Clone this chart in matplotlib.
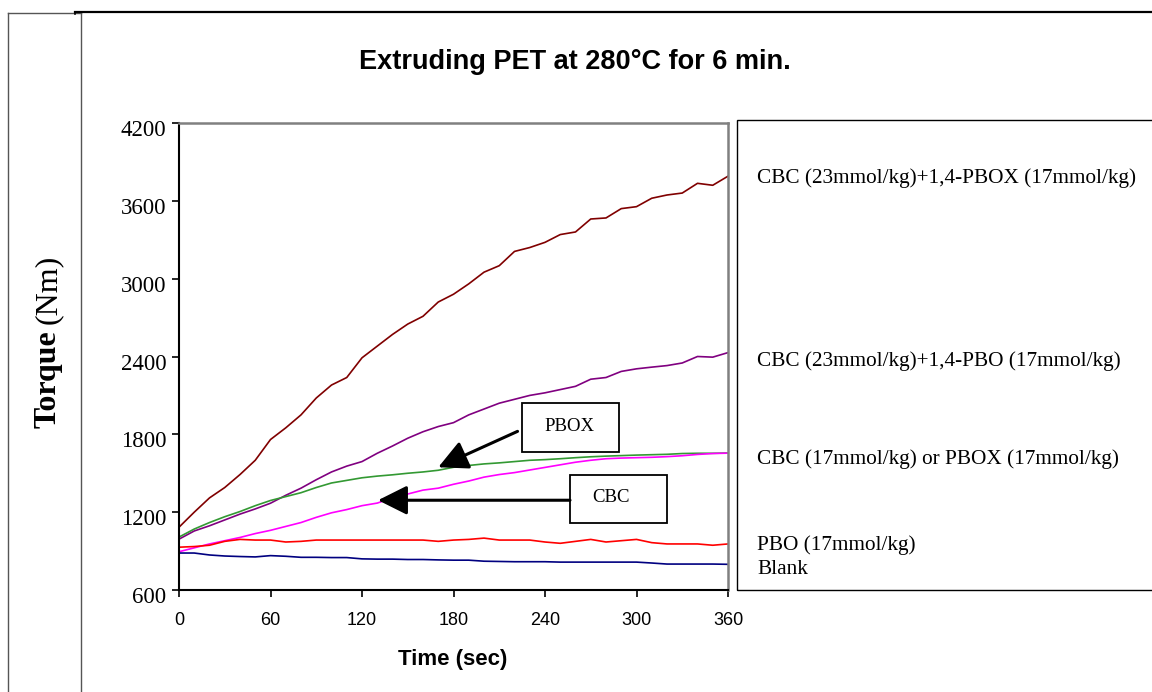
import matplotlib
matplotlib.use("Agg")
import matplotlib.pyplot as plt
import matplotlib.transforms as mtransforms
from matplotlib.patches import Rectangle
from matplotlib.lines import Line2D

# time axis (s), every 10 s
time_s = list(range(0, 361, 10))

cbc23_pbox17 = [1084, 1200, 1310, 1390, 1490, 1600, 1760, 1850, 1950, 2080, 2180, 2238, 2390,
                2480, 2570, 2650, 2710, 2820, 2880, 2960, 3050, 3100, 3210, 3240, 3280, 3340,
                3360, 3460, 3468, 3540, 3555, 3620, 3645, 3660, 3735, 3720, 3790]
cbc23_pbo17 = [992, 1055, 1095, 1140, 1185, 1225, 1269, 1330, 1385, 1450, 1510, 1555, 1590,
               1654, 1710, 1770, 1820, 1860, 1890, 1950, 1995, 2040, 2070, 2100, 2120, 2145,
               2170, 2225, 2238, 2285, 2305, 2318, 2330, 2350, 2400, 2395, 2430]
pbox17 = [1008, 1070, 1120, 1165, 1205, 1250, 1290, 1320, 1350, 1390, 1425, 1445, 1465,
          1478, 1488, 1500, 1510, 1523, 1546, 1560, 1572, 1580, 1590, 1600, 1605, 1612,
          1620, 1627, 1632, 1636, 1640, 1643, 1646, 1652, 1654, 1654, 1656]
cbc17 = [895, 925, 955, 980, 1005, 1035, 1060, 1090, 1120, 1160, 1195, 1220, 1250,
         1270, 1310, 1340, 1370, 1385, 1415, 1440, 1470, 1490, 1505, 1525, 1545, 1565,
         1585, 1600, 1612, 1617, 1620, 1623, 1628, 1635, 1645, 1652, 1655]
pbo17 = [930, 935, 945, 975, 990, 985, 985, 970, 975, 985, 985, 985, 985,
         985, 985, 985, 985, 975, 985, 990, 1000, 985, 985, 985, 970, 960,
         975, 990, 970, 980, 990, 965, 955, 955, 955, 945, 955]
blank = [885, 885, 870, 862, 858, 855, 865, 860, 852, 852, 850, 850, 840,
         838, 838, 835, 835, 832, 830, 830, 822, 820, 818, 818, 818, 815,
         815, 815, 815, 815, 815, 808, 800, 800, 800, 800, 798]

series = [cbc23_pbox17, cbc23_pbo17, pbox17, cbc17, pbo17, blank]
colors = ["#800000", "#800080", "#339933", "#FF00FF", "#FF0000", "#000080"]

legend_labels = ["CBC (23mmol/kg)+1,4-PBOX (17mmol/kg)",
                 "CBC (23mmol/kg)+1,4-PBO (17mmol/kg)",
                 "CBC (17mmol/kg) or PBOX (17mmol/kg)",
                 "PBO (17mmol/kg)",
                 "Blank"]
legend_y = [178, 361, 459, 545, 569]   # pixel rows of the labels

x_ticks = list(range(0, 361, 60))
y_ticks = list(range(600, 4201, 600))

serif = "Liberation Serif"
sans = "Liberation Sans"

W, H = 1152, 692
fig = plt.figure(figsize=(W / 100, H / 100), dpi=100)

# page frames around the chart
fig.add_artist(Line2D([8 / W, 8 / W], [0, 1 - 13 / H], color="#555555", lw=1.0))
fig.add_artist(Line2D([81 / W, 81 / W], [0, 1 - 13 / H], color="#555555", lw=1.0))
fig.add_artist(Line2D([8 / W, 81 / W], [1 - 13 / H, 1 - 13 / H], color="#555555", lw=1.0))
fig.add_artist(Line2D([75 / W, 1], [1 - 11.5 / H, 1 - 11.5 / H], color="black", lw=1.6))
fig.add_artist(Line2D([75 / W, 75 / W], [1 - 11.5 / H, 1 - 14 / H], color="black", lw=1.2))

# legend frame (open to the right)
fig.add_artist(Rectangle((737 / W, 1 - 590 / H), (W + 5 - 737) / W, (590 - 120) / H,
                         transform=fig.transFigure, fill=False, ec="black", lw=1.0))

ax = fig.add_axes([179 / W, 1 - 590 / H, (728 - 179) / W, (590 - 123) / H])

for vals, c in zip(series, colors):
    ax.plot(time_s, vals, color=c, lw=1.2)

ax.set_xlim(0, 360)
ax.set_ylim(600, 4200)
ax.set_xticks(x_ticks)
ax.set_yticks(y_ticks)
ax.tick_params(direction="out", length=5, width=1.2, color="black")
ax.tick_params(axis="x", labelsize=13, pad=11)
ax.tick_params(axis="y", labelsize=16.5, pad=4)
for lab in ax.get_xticklabels():
    lab.set_fontfamily(sans)
shift = mtransforms.ScaledTranslation(0, -0.05, fig.dpi_scale_trans)
for lab in ax.get_yticklabels():
    lab.set_fontfamily(serif)
    lab.set_transform(lab.get_transform() + shift)

ax.spines["left"].set_color("black")
ax.spines["bottom"].set_color("black")
ax.spines["left"].set_linewidth(1.5)
ax.spines["bottom"].set_linewidth(1.5)
ax.spines["top"].set_color("#808080")
ax.spines["right"].set_color("#808080")
ax.spines["top"].set_linewidth(1.8)
ax.spines["right"].set_linewidth(1.8)

# callout boxes with arrows
ax.add_patch(Rectangle((225, 1661), 63.5, 377, fill=False, ec="black", lw=1.3, zorder=5))
ax.text(256, 1860, "PBOX", ha="center", va="center", fontsize=13.5, family=serif)
ax.annotate("", xy=(170, 1546), xytext=(222, 1823),
            arrowprops=dict(arrowstyle="-|>,head_length=0.9,head_width=0.45",
                            color="black", lw=2.2, mutation_scale=20, shrinkA=0, shrinkB=0))

ax.add_patch(Rectangle((256.4, 1115), 63.6, 369, fill=False, ec="black", lw=1.3, zorder=5))
ax.text(283, 1310, "CBC", ha="center", va="center", fontsize=13.5, family=serif)
ax.annotate("", xy=(130.5, 1292), xytext=(256.4, 1292),
            arrowprops=dict(arrowstyle="-|>,head_length=0.9,head_width=0.45",
                            color="black", lw=2.2, mutation_scale=20, shrinkA=0, shrinkB=0))

# titles
fig.text(575 / W, 1 - 62 / H, "Extruding PET at 280°C for 6 min.", ha="center", va="center",
         fontsize=19.5, fontweight="bold", family=sans)
fig.text(453 / W, 1 - 660 / H, "Time (sec)", ha="center", va="center",
         fontsize=16, fontweight="bold", family=sans)
fig.text(48 / W, 1 - 428 / H, "Torque", rotation=90, ha="center", va="bottom",
         fontsize=23, fontweight="bold", family=serif)
fig.text(48 / W, 1 - 324 / H, "(Nm)", rotation=90, ha="center", va="bottom",
         fontsize=23, family=serif)

for lab, yp in zip(legend_labels, legend_y):
    fig.text(757 / W, 1 - yp / H, lab, ha="left", va="center", fontsize=15.3, family=serif)

fig.savefig("out.png", dpi=100)
